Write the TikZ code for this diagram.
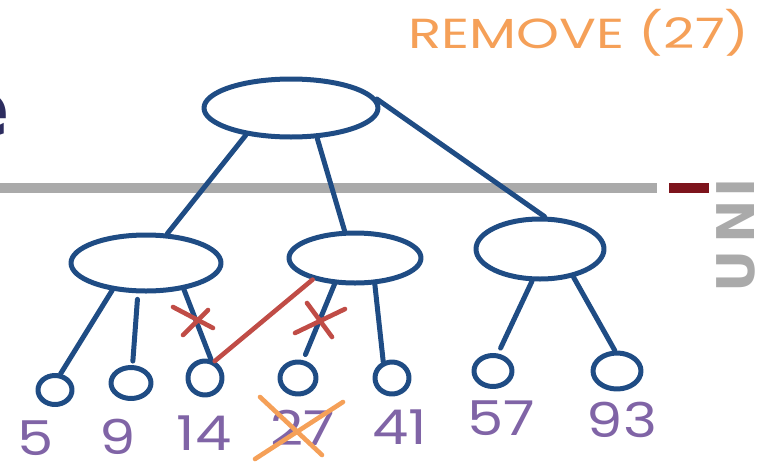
\documentclass[tikz,border=0pt]{standalone}
\usepackage{fontspec}
\setmainfont{Liberation Sans}
\newfontfamily\handfont{Poppins}
\newfontfamily\slidefont{DejaVu Sans}
\usetikzlibrary{shapes.geometric}

\definecolor{ink}{RGB}{31,76,132}
\definecolor{cutred}{RGB}{192,76,70}
\definecolor{note}{RGB}{245,160,88}
\definecolor{keyviolet}{RGB}{128,100,166}
\definecolor{rulegray}{RGB}{170,170,170}
\definecolor{rulered}{RGB}{125,20,28}
\definecolor{titlenavy}{RGB}{45,45,95}

\tikzset{
  pen/.style={draw=ink, line width=5pt, line cap=round, line join=round},
  bucket/.style={pen, ellipse, inner sep=0pt},
  edge/.style={pen},
  cutmark/.style={draw=cutred, line width=4.6pt, line cap=round},
  strike/.style={draw=note, line width=4.6pt, line cap=round},
  keylabel/.style={text=keyviolet, inner sep=0pt, xscale=1.2,
    font=\handfont\fontsize{48}{48}\selectfont},
  logoletter/.style={text=rulegray, rotate=90, anchor=base, inner sep=0pt,
    font=\slidefont\bfseries\fontsize{52}{52}\selectfont}
}

\begin{document}
\begin{tikzpicture}[x=1pt,y=-1pt]
\useasboundingbox (0,0) rectangle (758,461);
\clip (0,0) rectangle (758,461);

% slide background: title fragment, header rule and logo
\node[anchor=base east, inner sep=0pt, text=titlenavy,
      font=\slidefont\bfseries\fontsize{79}{79}\selectfont] (title) at (10,136) {e};
\fill[rulegray] (0,183) rectangle (657,193);
\fill[rulered] (669,183) rectangle (709,193);
\node[logoletter] (logoI) at (754,188) {I};
\node[logoletter] (logoN) at (754,222) {N};
\node[logoletter] (logoU) at (754,271) {U};

% annotation
\node[text=note, inner sep=0pt, xscale=1.3,
      font=\handfont\fontsize{42}{42}\selectfont] (task) at (579,33) {REMOVE (27)};

% inner nodes
\node[bucket, minimum width=174pt, minimum height=58pt] (root) at (291,108) {};
\node[bucket, minimum width=150pt, minimum height=56pt] (lc) at (146,263) {};
\node[bucket, minimum width=132pt, minimum height=50pt] (mc) at (355,258) {};
\node[bucket, minimum width=128pt, minimum height=60pt] (rc) at (540,249) {};

% leaves
\node[bucket, minimum width=34pt, minimum height=29pt] (k5)  at (55,390) {};
\node[bucket, minimum width=40pt, minimum height=31pt] (k9)  at (131,383) {};
\node[bucket, minimum width=34pt, minimum height=34pt] (k14) at (205,378) {};
\node[bucket, minimum width=36pt, minimum height=32pt] (k27) at (298,378) {};
\node[bucket, minimum width=34pt, minimum height=32pt] (k41) at (392,378) {};
\node[bucket, minimum width=38pt, minimum height=31pt] (k57) at (493,371) {};
\node[bucket, minimum width=48pt, minimum height=36pt] (k93) at (617,371) {};

% tree edges
\draw[edge] (root.211) -- (lc.54);
\draw[edge] (root.311) -- (mc.111);
\draw[edge] (root.6) -- (rc.82);
\draw[edge] (lc.219) -- (k5.71);
\draw[edge, shorten <=6pt, shorten >=4pt] (lc.255) -- (k9.85);
\draw[edge] (lc.325) -- (k14.72);
\draw[edge, shorten >=6pt] (mc.232) -- (k27.74);
\draw[edge] (mc.307) -- (k41.118);
\draw[edge, shorten >=6pt] (rc.256) -- (k57.74);
\draw[edge] (rc.320) -- (k93.96);

% relinking after the removal
\draw[cutmark] (mc.207) -- (k14.60);
\draw[cutmark] (173,307) -- (213,328);
\draw[cutmark] (183,335) -- (208,310);
\draw[cutmark] (295,333) -- (345,309);
\draw[cutmark] (307,303) -- (332,337);

% keys
\node[keylabel] (t5)  at (36,438)  {5};
\node[keylabel] (t9)  at (118,437) {9};
\node[keylabel] (t14) at (204,433) {14};
\node[keylabel] (t27) at (303,428) {27};
\node[keylabel] (t41) at (400,427) {41};
\node[keylabel] (t57) at (501,418) {57};
\node[keylabel] (t93) at (622,420) {93};

% removed key
\draw[strike] (260,397) -- (322,455);
\draw[strike] (343,402) -- (255,459);
\end{tikzpicture}
\end{document}
